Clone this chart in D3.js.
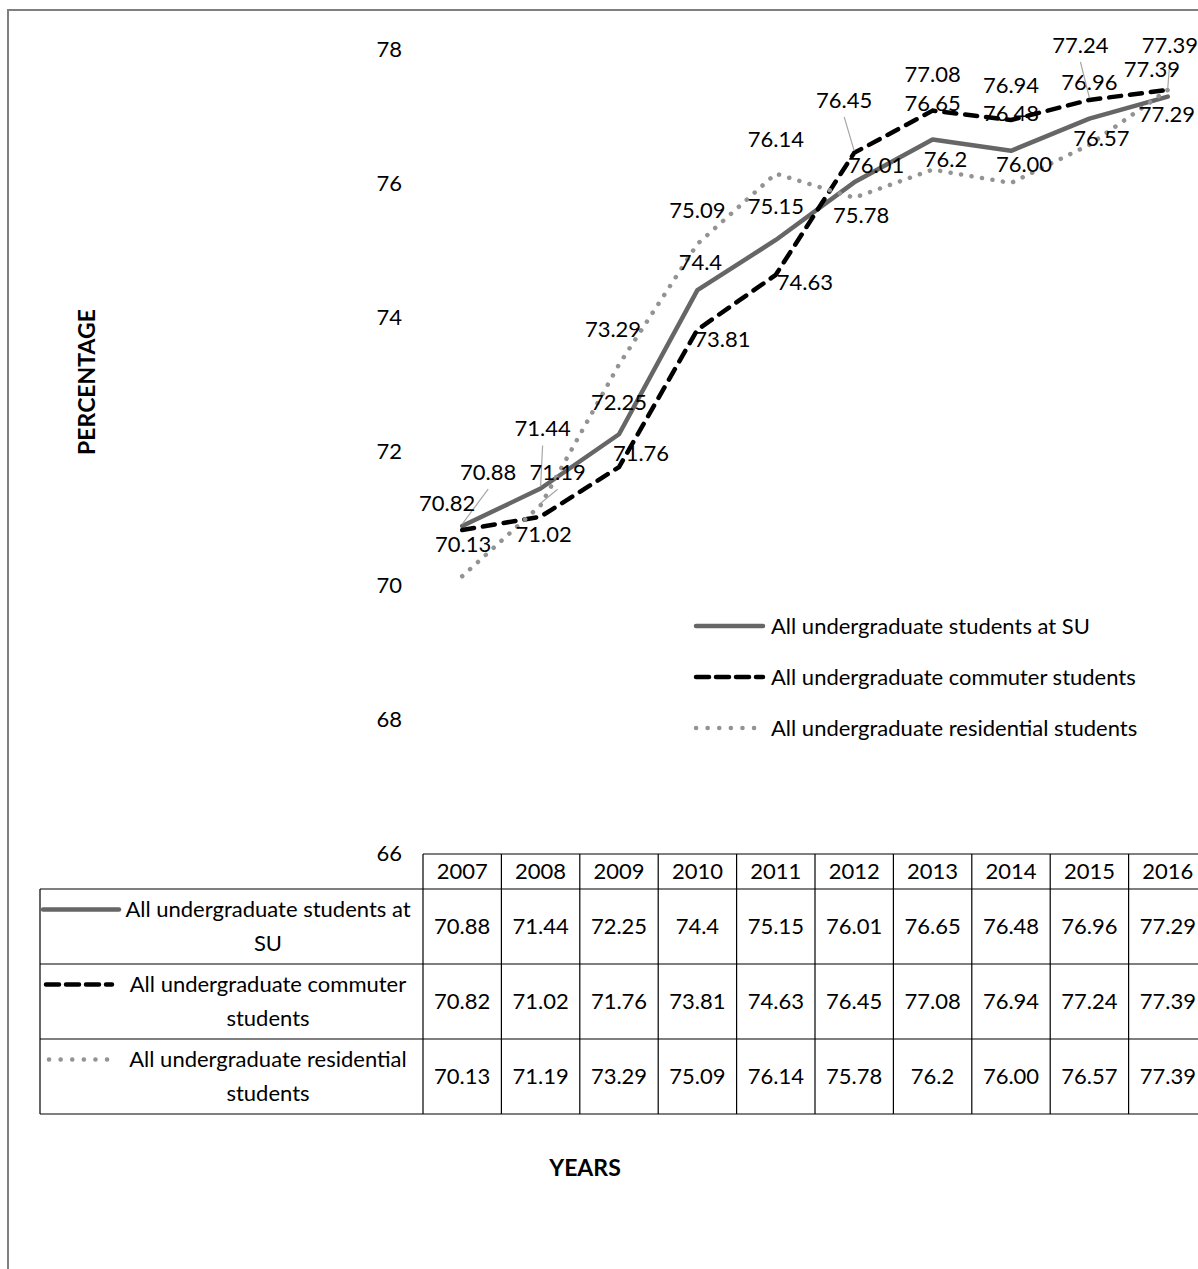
<!DOCTYPE html>
<html>
<head>
<meta charset="utf-8">
<script src="https://cdn.jsdelivr.net/npm/d3@7"></script>
<style>
  html, body { margin: 0; padding: 0; background: #fff; }
  svg { display: block; }
  text { font-family: Lato, "Open Sans", sans-serif; fill: #000; }
</style>
</head>
<body>
<svg id="chart" width="1198" height="1269"></svg>
<script>
// ---------- DATA ----------
const years = ["2007","2008","2009","2010","2011","2012","2013","2014","2015","2016"];
const seriesNames = [
  "All undergraduate students at SU",
  "All undergraduate commuter students",
  "All undergraduate residential students"
];
const allStudents = [70.88, 71.44, 72.25, 74.4, 75.15, 76.01, 76.65, 76.48, 76.96, 77.29];
const commuterStudents = [70.82, 71.02, 71.76, 73.81, 74.63, 76.45, 77.08, 76.94, 77.24, 77.39];
const residentialStudents = [70.13, 71.19, 73.29, 75.09, 76.14, 75.78, 76.2, 76.00, 76.57, 77.39];
// text as shown in the picture (keeps "74.4", "76.00", "76.2" formatting)
const allStudentsText = ["70.88","71.44","72.25","74.4","75.15","76.01","76.65","76.48","76.96","77.29"];
const commuterText = ["70.82","71.02","71.76","73.81","74.63","76.45","77.08","76.94","77.24","77.39"];
const residentialText = ["70.13","71.19","73.29","75.09","76.14","75.78","76.2","76.00","76.57","77.39"];
const yTicks = [66, 68, 70, 72, 74, 76, 78];

// ---------- LAYOUT (label offsets relative to the point; leader flag) ----------
const labelOffsets = [
  [[26,-54,1],[2,-60,1],[0,-32,0],[3,-28,0],[0,-34,0],[22,-17,0],[0,-36,0],[0,-38,0],[0,-36,0],[-1,18,0]],
  [[-15,-27,0],[3,18,0],[22,-14,0],[25,10,0],[29,8,0],[-10,-53,1],[0,-36,0],[0,-35,0],[-9,-55,1],[2,-45,1]],
  [[1,-32,0],[17,-33,1],[-6,-35,0],[0,-34,0],[0,-34,0],[7,18,0],[13,-10,0],[13,-19,0],[12,-7,0],[-16,-21,0]]
];

const styles = [
  { stroke: "#666666", width: 4.5, dash: null, cap: "round" },
  { stroke: "#000000", width: 4.5, dash: "12 9", cap: "round" },
  { stroke: "#939393", width: 4.5, dash: "0.1 10.5", cap: "round" }
];

const svg = d3.select("#chart");
const FS = 22;

// outer border
svg.append("path")
  .attr("d", "M8,1269 L8,10 L1198,10")
  .attr("fill", "none").attr("stroke", "#7f7f7f").attr("stroke-width", 2);

const x = d3.scaleBand().domain(years).range([423, 1207]).padding(0);
const y = d3.scaleLinear().domain([66, 78]).range([853, 49]);
const cx = d => x(d) + x.bandwidth() / 2;

// y axis (labels only)
const yAxis = d3.axisLeft(y).tickValues(yTicks).tickSize(0).tickPadding(0).tickFormat(d3.format("d"));
const gy = svg.append("g").attr("transform", "translate(402,0)").call(yAxis);
gy.select(".domain").remove();
gy.selectAll("text").attr("font-size", FS).attr("font-family", "Lato, sans-serif").attr("fill", "#000").attr("dy", "0.35em");

// axis titles
svg.append("text")
  .attr("transform", "translate(95,382) rotate(-90)")
  .attr("text-anchor", "middle")
  .attr("font-weight", "bold").attr("font-size", 23)
  .text("PERCENTAGE");
svg.append("text")
  .attr("x", 585).attr("y", 1176)
  .attr("text-anchor", "middle")
  .attr("font-weight", "bold").attr("font-size", 23)
  .text("YEARS");

const allSeries = [allStudents, commuterStudents, residentialStudents];
const line = d3.line().x((d, i) => cx(years[i])).y(d => y(d));

// lines
allSeries.forEach((s, k) => {
  const st = styles[k];
  svg.append("path")
    .datum(s)
    .attr("d", line)
    .attr("fill", "none")
    .attr("stroke", st.stroke)
    .attr("stroke-width", st.width)
    .attr("stroke-linecap", st.cap)
    .attr("stroke-linejoin", "round")
    .attr("stroke-dasharray", st.dash);
});

// data labels
const seriesText = [allStudentsText, commuterText, residentialText];
allSeries.forEach((s, k) => {
  s.forEach((v, i) => {
    const [dx, dy, leader] = labelOffsets[k][i];
    const px = cx(years[i]), py = y(v);
    const lx = px + dx, ly = py + dy;
    if (leader) {
      svg.append("line")
        .attr("x1", lx).attr("y1", ly + 17)
        .attr("x2", px).attr("y2", py - 2)
        .attr("stroke", "#a6a6a6").attr("stroke-width", 1.2);
    }
    svg.append("text")
      .attr("x", lx).attr("y", ly)
      .attr("dy", "0.35em")
      .attr("text-anchor", "middle")
      .attr("font-size", FS)
      .text(seriesText[k][i]);
  });
});

// legend
const legendY = [626, 677, 728];
seriesNames.forEach((n, k) => {
  const st = styles[k];
  svg.append("line")
    .attr("x1", 696).attr("x2", 763)
    .attr("y1", legendY[k]).attr("y2", legendY[k])
    .attr("stroke", st.stroke).attr("stroke-width", st.width)
    .attr("stroke-linecap", st.cap)
    .attr("stroke-dasharray", k === 1 ? "13 7" : (k === 2 ? "0.1 11.5" : null));
  svg.append("text")
    .attr("x", 771).attr("y", legendY[k]).attr("dy", "0.35em")
    .attr("font-size", FS)
    .text(n);
});

// data table
const tableTop = 854, headerH = 35, rowH = 75;
const labelLeft = 40, colLeft = 423, colRight = 1207;
const tbl = svg.append("g");
const rowsTop = tableTop + headerH;
const tableBottom = rowsTop + rowH * 3;
tbl.append("line").attr("x1", colLeft).attr("x2", colRight).attr("y1", tableTop).attr("y2", tableTop)
  .attr("stroke", "#000").attr("stroke-width", 1.2);
for (let r = 0; r <= 3; r++) {
  const yy = rowsTop + r * rowH;
  tbl.append("line").attr("x1", labelLeft).attr("x2", colRight).attr("y1", yy).attr("y2", yy)
    .attr("stroke", "#000").attr("stroke-width", 1.2);
}
tbl.append("line").attr("x1", labelLeft).attr("x2", labelLeft).attr("y1", rowsTop).attr("y2", tableBottom)
  .attr("stroke", "#000").attr("stroke-width", 1.2);
years.forEach(yr => {
  const xx = x(yr);
  tbl.append("line").attr("x1", xx).attr("x2", xx).attr("y1", tableTop).attr("y2", tableBottom)
    .attr("stroke", "#000").attr("stroke-width", 1.2);
});
years.forEach(yr => {
  tbl.append("text").attr("x", cx(yr)).attr("y", tableTop + headerH / 2).attr("dy", "0.35em")
    .attr("text-anchor", "middle").attr("font-size", FS).text(yr);
});
const rowLabelLines = [
  ["All undergraduate students at", "SU"],
  ["All undergraduate commuter", "students"],
  ["All undergraduate residential", "students"]
];
const keyX = [[43, 119], [46, 112], [49, 112]];
seriesText.forEach((vals, k) => {
  const rc = rowsTop + rowH * k + rowH / 2;
  vals.forEach((t, i) => {
    tbl.append("text").attr("x", cx(years[i])).attr("y", rc).attr("dy", "0.35em")
      .attr("text-anchor", "middle").attr("font-size", FS).text(t);
  });
  const st = styles[k];
  tbl.append("line")
    .attr("x1", keyX[k][0]).attr("x2", keyX[k][1])
    .attr("y1", rc - 17).attr("y2", rc - 17)
    .attr("stroke", st.stroke).attr("stroke-width", st.width)
    .attr("stroke-linecap", st.cap)
    .attr("stroke-dasharray", k === 1 ? "13 7" : (k === 2 ? "0.1 11.5" : null));
  rowLabelLines[k].forEach((ln, j) => {
    tbl.append("text").attr("x", 268).attr("y", rc - 17 + j * 34).attr("dy", "0.35em")
      .attr("text-anchor", "middle").attr("font-size", FS).text(ln);
  });
});
</script>
</body>
</html>
